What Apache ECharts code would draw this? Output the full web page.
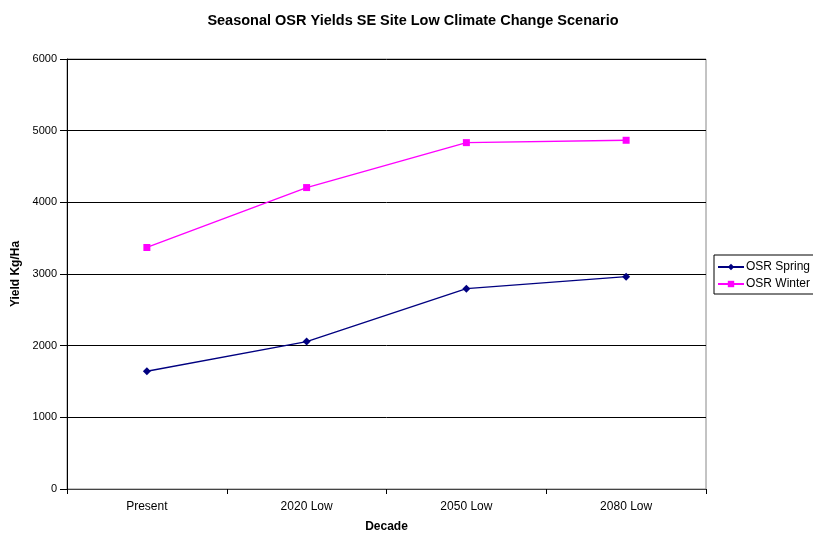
<!DOCTYPE html>
<html>
<head>
<meta charset="utf-8">
<script src="https://cdn.jsdelivr.net/npm/echarts@6/dist/echarts.min.js"></script>
<style>html,body{margin:0;padding:0;background:#fff;}#c{width:813px;height:538px;}</style>
</head>
<body>
<div id="c"></div>
<script>
const categories = ['Present', '2020 Low', '2050 Low', '2080 Low'];
const osrSpring = [1643, 2057, 2795, 2962];
const osrWinter = [3370, 4206, 4833, 4866];
const yTicks = [0, 1000, 2000, 3000, 4000, 5000, 6000];

const FONT = 'Liberation Sans, Arial, sans-serif';
const chart = echarts.init(document.getElementById('c'), null, {renderer: 'canvas'});
chart.setOption({
  animation: false,
  backgroundColor: '#fff',
  title: {
    text: 'Seasonal OSR Yields SE Site Low Climate Change Scenario',
    left: 408, top: 8, textAlign: 'center',
    textStyle: {fontFamily: FONT, fontSize: 14.5, fontWeight: 'bold', color: '#000'}
  },
  legend: {
    orient: 'vertical', left: 714, top: 255,
    padding: [6, 4, 4, 3], itemGap: 5,
    itemWidth: 26, itemHeight: 8,
    borderColor: '#000', borderWidth: 1,
    textStyle: {fontFamily: FONT, fontSize: 12, color: '#000', padding: [0, 0, 0, -3]},
    data: ['OSR Spring', 'OSR Winter']
  },
  grid: {left: 67, right: 107, top: 59, bottom: 48, show: true, borderColor: '#888', borderWidth: 1, backgroundColor: 'transparent'},
  xAxis: {
    type: 'category', data: categories, boundaryGap: true,
    name: 'Decade', nameLocation: 'middle', nameGap: 32,
    nameTextStyle: {fontFamily: FONT, fontSize: 12, fontWeight: 'bold', color: '#000'},
    axisLine: {lineStyle: {color: '#444', width: 1}},
    axisTick: {show: true, alignWithLabel: false, length: 5, lineStyle: {color: '#000'}},
    axisLabel: {fontFamily: FONT, fontSize: 12, color: '#000', margin: 12},
    splitLine: {show: false}
  },
  yAxis: {
    type: 'value', min: yTicks[0], max: yTicks[yTicks.length - 1], interval: 1000,
    name: 'Yield Kg/Ha', nameLocation: 'middle', nameGap: 43, nameRotate: 90,
    nameTextStyle: {fontFamily: FONT, fontSize: 12, fontWeight: 'bold', color: '#000'},
    axisLine: {show: true, lineStyle: {color: '#000', width: 1}},
    axisTick: {show: true, length: 7, lineStyle: {color: '#000'}},
    axisLabel: {fontFamily: FONT, fontSize: 11, color: '#000', margin: 10, formatter: v => String(v)},
    splitLine: {show: true, lineStyle: {color: '#000', width: 1}}
  },
  series: [
    {
      name: 'OSR Spring', type: 'line', data: osrSpring,
      symbol: 'diamond', symbolSize: 8,
      lineStyle: {color: '#000080', width: 1.3},
      itemStyle: {color: '#000080'}
    },
    {
      name: 'OSR Winter', type: 'line', data: osrWinter,
      symbol: 'rect', symbolSize: 7,
      lineStyle: {color: '#FF00FF', width: 1.3},
      itemStyle: {color: '#FF00FF'}
    }
  ]
});
</script>
</body>
</html>
